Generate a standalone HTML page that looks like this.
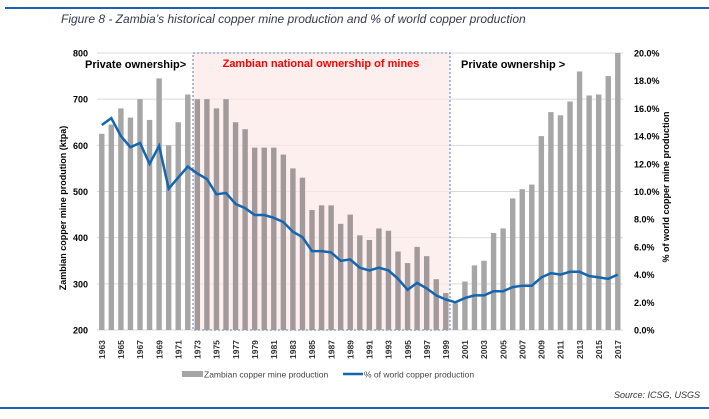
<!DOCTYPE html>
<html><head><meta charset="utf-8"><style>
body{margin:0;background:#fff;width:709px;height:419px;overflow:hidden;font-family:"Liberation Sans",sans-serif}
svg{display:block}
</style></head><body>
<svg id="chart" width="709" height="419" xmlns="http://www.w3.org/2000/svg">
<line x1="5" y1="8" x2="709" y2="8" stroke="#1f5fae" stroke-width="2"/>
<text x="61" y="23" font-size="12" font-style="italic" fill="#333a50">Figure 8  - Zambia’s historical copper mine production and % of world copper production</text>
<g id="grid"></g>
<rect x="193" y="53" width="257" height="277" fill="#fde8e8" fill-opacity="0.7" stroke="#5a7fb5" stroke-width="1" stroke-dasharray="2,2"/>
<g id="bars"></g>
<path id="line" fill="none" stroke="#1466b0" stroke-width="2.5"/>
<g id="ylab"></g>
<g id="rlab"></g>
<g id="xlab"></g>
<text x="85" y="68" font-size="11" font-weight="bold" fill="#000">Private ownership&gt;</text>
<text x="321" y="67" font-size="11" font-weight="bold" fill="#f00" text-anchor="middle">Zambian national ownership of mines</text>
<text x="461" y="68" font-size="11" font-weight="bold" fill="#000">Private ownership &gt;</text>
<text transform="translate(66,208) rotate(-90)" font-size="9" font-weight="bold" text-anchor="middle" fill="#000">Zambian copper mine prodution (ktpa)</text>
<text transform="translate(669,187) rotate(-90)" font-size="9" font-weight="bold" text-anchor="middle" fill="#000">% of world copper mine production</text>
<rect x="182" y="371" width="21" height="6" fill="#a6a6a6"/>
<text x="204" y="377.5" font-size="8.5" fill="#444">Zambian copper mine production</text>
<line x1="343" y1="374" x2="363" y2="374" stroke="#1466b0" stroke-width="2.5"/>
<text x="364" y="377.5" font-size="8.5" fill="#444">% of world copper production</text>
<text x="700" y="398" font-size="9" font-style="italic" fill="#333" text-anchor="end">Source: ICSG, USGS</text>
<line x1="0" y1="408" x2="709" y2="408" stroke="#1f5fae" stroke-width="2"/>
</svg>
<script>
const years=[];for(let y=1963;y<=2017;y++)years.push(y);
const production=[625,645,680,660,700,655,745,600,650,710,700,700,680,700,650,635,595,595,595,580,550,530,460,470,470,430,450,405,395,420,415,370,345,380,360,310,280,258,305,340,350,410,420,485,505,515,620,672,665,695,760,708,710,750,800];
const worldShare=[14.8,15.3,14.0,13.2,13.5,12.0,13.3,10.2,11.0,11.8,11.3,10.9,9.8,9.9,9.1,8.8,8.3,8.3,8.1,7.8,7.1,6.7,5.7,5.7,5.6,5.0,5.1,4.5,4.3,4.5,4.3,3.7,2.9,3.4,3.0,2.5,2.2,2.0,2.3,2.5,2.5,2.8,2.8,3.1,3.2,3.2,3.8,4.1,4.0,4.2,4.2,3.9,3.8,3.7,4.0];
const leftTicks=[200,300,400,500,600,700,800];
const rightTicks=[0,2,4,6,8,10,12,14,16,18,20];
const NS="http://www.w3.org/2000/svg";
const top_=53,bot=330,x0=97,step=9.556;
const yL=v=>bot-(v-200)/600*(bot-top_);
const yR=v=>bot-v/20*(bot-top_);
const xC=i=>x0+step*(i+0.5);
function mk(tag,attrs,parent){const e=document.createElementNS(NS,tag);for(const k in attrs)e.setAttribute(k,attrs[k]);document.getElementById(parent).appendChild(e);return e;}
leftTicks.forEach(t=>{
 const l=mk('line',{x1:x0,x2:623,y1:yL(t),y2:yL(t),stroke:'#d9d9d9','stroke-width':1},'grid');
 
 
 const tx=mk('text',{x:88,y:yL(t)+3.5,'font-size':9,'font-weight':'bold','text-anchor':'end'},'ylab');
 tx.textContent=t;
 
 
});
rightTicks.forEach(t=>{
 const tx=mk('text',{x:634,y:yR(t)+3.5,'font-size':9,'font-weight':'bold'},'rlab');
 tx.textContent=t.toFixed(1)+'%';
 
 
});
production.forEach((v,i)=>{
 const inBox=years[i]>=1973&&years[i]<=1999;
 const r=mk('rect',{x:xC(i)-2.7,y:yL(v),width:5.4,height:bot-yL(v),fill:inBox?'#a29a9a':'#a6a6a6'},'bars');
 
 
 if(i%2===0){
  const tx=mk('text',{transform:`translate(${xC(i)+3.2},359) rotate(-90)`,'font-size':8.5,'font-weight':'bold',fill:'#333'},'xlab');
  tx.textContent=years[i];
  
  
 }
});
document.getElementById('line').setAttribute('d',worldShare.map((v,i)=>(i?'L':'M')+xC(i).toFixed(1)+','+yR(v).toFixed(1)).join(''));
</script>
</body></html>
